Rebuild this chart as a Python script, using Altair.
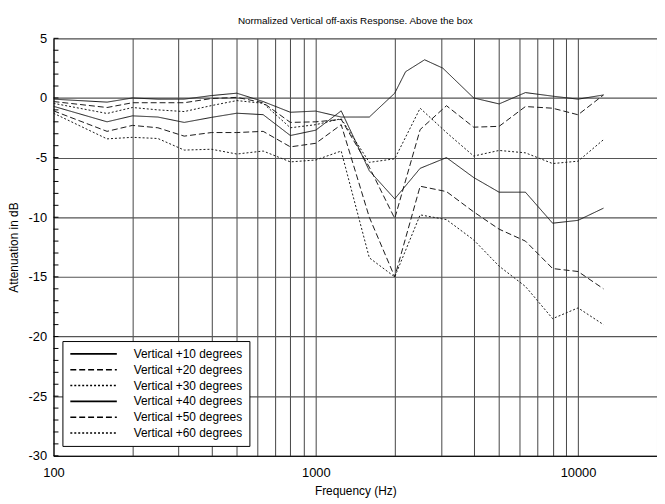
import altair as alt
import pandas as pd

chart_title = "Normalized Vertical off-axis Response. Above the box"
x_title = "Frequency (Hz)"
y_title = "Attenuation in dB"

series_names = [
    "Vertical +10 degrees",
    "Vertical +20 degrees",
    "Vertical +30 degrees",
    "Vertical +40 degrees",
    "Vertical +50 degrees",
    "Vertical +60 degrees",
]
dash_patterns = [[1, 0], [6, 3], [2, 2], [1, 0], [6, 3], [2, 2]]

freq_std = [100, 160, 200, 250, 315, 400, 500, 630, 800, 1000, 1250, 1600,
            2000, 2500, 3150, 4000, 5000, 6300, 8000, 10000, 12500]

freq_10 = [100, 160, 200, 250, 315, 400, 500, 630, 800, 1000, 1250, 1600,
           2000, 2200, 2600, 3050, 4000, 5000, 6300, 8000, 10000, 12500]
vals_10 = [-0.1, -0.35, 0.0, -0.1, -0.1, 0.2, 0.4, -0.3, -1.2, -1.1, -1.6, -1.6,
           0.4, 2.2, 3.2, 2.5, 0.0, -0.5, 0.45, 0.15, -0.1, 0.25]

vals_20 = [-0.3, -0.8, -0.4, -0.4, -0.4, -0.05, 0.05, -0.4, -2.05, -2.0, -1.8, -5.8,
           -10.1, -2.65, -0.65, -2.45, -2.38, -0.72, -0.86, -1.41, 0.25]

vals_30 = [-0.45, -1.3, -0.8, -1.0, -1.14, -0.64, -0.22, -0.45, -2.5, -2.24, -1.74, -5.4,
           -5.1, -0.86, -2.9, -4.87, -4.4, -4.6, -5.5, -5.3, -3.5]

vals_40 = [-0.7, -2.0, -1.5, -1.6, -2.05, -1.63, -1.28, -1.4, -3.15, -2.7, -1.08, -6.1,
           -8.46, -5.9, -5.0, -6.67, -7.9, -7.9, -10.5, -10.26, -9.24]

vals_50 = [-1.08, -2.8, -2.3, -2.5, -3.2, -2.9, -2.9, -2.8, -4.1, -3.8, -2.24, -10.0,
           -15.0, -7.4, -7.85, -9.55, -11.0, -12.0, -14.3, -14.55, -16.0]

vals_60 = [-1.28, -3.43, -3.3, -3.4, -4.37, -4.3, -4.7, -4.45, -5.36, -5.2, -4.45, -13.4,
           -15.0, -9.8, -10.2, -11.9, -14.1, -15.8, -18.5, -17.6, -19.0]

x_grid = [100, 200, 300, 400, 500, 600, 700, 800, 900,
          1000, 2000, 3000, 4000, 5000, 6000, 7000, 8000, 9000,
          10000, 20000]
y_major = [-30, -25, -20, -15, -10, -5, 0, 5]
y_minor = list(range(-30, 6))

series_data = [
    (series_names[0], freq_10, vals_10),
    (series_names[1], freq_std, vals_20),
    (series_names[2], freq_std, vals_30),
    (series_names[3], freq_std, vals_40),
    (series_names[4], freq_std, vals_50),
    (series_names[5], freq_std, vals_60),
]
rows = []
for name, fr, vs in series_data:
    for i, (f, v) in enumerate(zip(fr, vs)):
        rows.append({"series": name, "freq": f, "db": v, "order": i})
df = pd.DataFrame(rows)

FONT = "Liberation Sans"

xscale = alt.Scale(type="log", domain=[100, 20000], nice=False)
yscale = alt.Scale(domain=[-30, 5], nice=False, zero=False)

lines = alt.Chart(df).mark_line(strokeWidth=1, color="#1a1a1a", clip=True).encode(
    x=alt.X("freq:Q", scale=xscale,
            axis=alt.Axis(values=x_grid, title=x_title, grid=True, ticks=False,
                          labelExpr="(datum.value == 100 || datum.value == 1000 || datum.value == 10000) ? format(datum.value, 'd') : ''",
                          labelOverlap=False, labelFlush=False,
                          labelFontSize=13, labelPadding=11, titlePadding=6,
                          titleFontSize=12, titleFontWeight="normal",
                          gridColor="#444", gridWidth=1, gridOpacity=1,
                          domainColor="black", labelColor="black", titleColor="black",
                          labelFont=FONT, titleFont=FONT)),
    y=alt.Y("db:Q", scale=yscale,
            axis=alt.Axis(values=y_major, title=y_title, grid=True, ticks=False,
                          labelExpr="datum.value < 0 ? '-' + abs(datum.value) : '' + datum.value",
                          labelFontSize=13, labelPadding=7, titlePadding=8,
                          titleFontSize=12, titleFontWeight="normal",
                          gridColor="#555", gridWidth=1.2, gridOpacity=1,
                          domainColor="black", labelColor="black", titleColor="black",
                          labelFont=FONT, titleFont=FONT)),
    strokeDash=alt.StrokeDash("series:N",
                              scale=alt.Scale(domain=series_names, range=dash_patterns),
                              legend=alt.Legend(orient="none", legendX=9, legendY=306,
                                                title=None,
                                                symbolType="M-1,0H8.4", symbolSize=100,
                                                symbolStrokeColor="black",
                                                symbolFillColor="transparent",
                                                symbolStrokeWidth=1.6,
                                                labelOffset=53, labelFontSize=12,
                                                labelFont=FONT, labelColor="black",
                                                labelLimit=300,
                                                labelExpr="datum.label + '\u00a0\u00a0\u00a0\u00a0'",
                                                strokeColor="black", fillColor="white",
                                                padding=7, rowPadding=4)),
    detail="series:N",
    order="order:Q",
)

minor = alt.Chart(pd.DataFrame({"t": y_minor})).mark_rule(color="black", strokeWidth=1).encode(
    y=alt.Y("t:Q", scale=yscale),
    x=alt.value(0),
    x2=alt.value(5),
)

chart = alt.layer(minor, lines).properties(
    width=610,
    height=422,
    title=alt.TitleParams(text=chart_title, font=FONT, fontSize=10, fontWeight="normal",
                          color="black", anchor="middle", offset=6),
    autosize=alt.AutoSizeParams(type="none"),
    padding={"left": 46, "top": 28, "right": 0, "bottom": 40},
).configure_view(stroke="black", strokeWidth=1).configure(background="white")

chart.save("out.html", embed_options={"renderer": "svg", "actions": False})
